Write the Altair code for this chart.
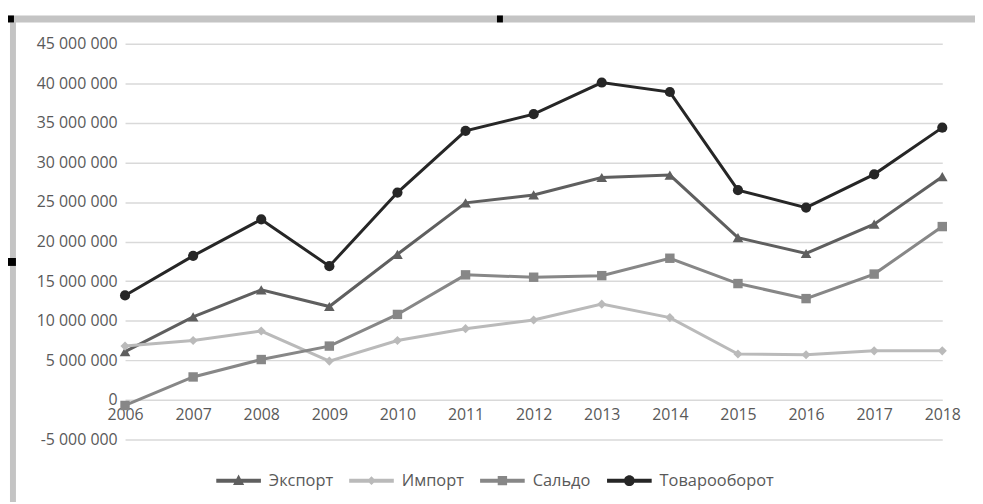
import altair as alt
import pandas as pd

# ---- data ----
years = [2006, 2007, 2008, 2009, 2010, 2011, 2012, 2013, 2014, 2015, 2016, 2017, 2018]
export_vals = [6100000, 10500000, 13900000, 11800000, 18400000, 24900000, 25900000,
               28100000, 28400000, 20500000, 18500000, 22200000, 28200000]
import_vals = [6800000, 7500000, 8700000, 4900000, 7500000, 9000000, 10100000,
               12100000, 10400000, 5800000, 5700000, 6200000, 6200000]
saldo_vals = [-700000, 2900000, 5100000, 6800000, 10800000, 15800000, 15500000,
              15700000, 17900000, 14700000, 12800000, 15900000, 21900000]
turnover_vals = [13200000, 18200000, 22800000, 16900000, 26200000, 34000000, 36100000,
                 40100000, 38900000, 26500000, 24300000, 28500000, 34400000]
y_ticks = [-5000000, 0, 5000000, 10000000, 15000000, 20000000, 25000000,
           30000000, 35000000, 40000000, 45000000]

series_names = ["Экспорт", "Импорт", "Сальдо", "Товарооборот"]
series_vals = [export_vals, import_vals, saldo_vals, turnover_vals]

# ---- styles ----
colors = ["#5f5f5f", "#bababa", "#878787", "#262626"]
shapes = ["triangle-up", "diamond", "square", "circle"]
marker_sizes = [115, 85, 90, 105]

line_part = "M-1,-0.09 L1,-0.09 L1,0.09 L-1,0.09 Z "
legend_paths = [
    line_part + "M0,-0.27 L0.25,0.2 L-0.25,0.2 Z",
    line_part + "M0,-0.2 L0.2,0 L0,0.2 L-0.2,0 Z",
    line_part + "M-0.21,-0.21 L0.21,-0.21 L0.21,0.21 L-0.21,0.21 Z",
    line_part + "M-0.24,0 A0.24,0.24 0 1,1 0.24,0 A0.24,0.24 0 1,1 -0.24,0 Z",
]

rows = []
for name, vals in zip(series_names, series_vals):
    for yr, v in zip(years, vals):
        rows.append({"year": yr, "value": v, "series": name})
df = pd.DataFrame(rows)

FONT = "Open Sans"
TXT = "#595959"
W, H = 824, 399

x_enc = alt.X(
    "year:Q",
    scale=alt.Scale(domain=[years[0], years[-1]], nice=False, zero=False),
    axis=alt.Axis(values=years, format="d", title=None, grid=False, domain=False,
                  ticks=False, offset=-40, labelPadding=7, labelFlush=False,
                  labelOverlap=False, labelFont=FONT, labelFontSize=16,
                  labelColor=TXT),
)
y_enc = alt.Y(
    "value:Q",
    scale=alt.Scale(domain=[y_ticks[0], y_ticks[-1]], nice=False, zero=False),
    axis=alt.Axis(values=y_ticks, title=None, grid=True, gridColor="#d9d9d9",
                  gridWidth=1.5, domain=False, ticks=False, labelPadding=8,
                  labelFont=FONT, labelFontSize=16, labelColor=TXT,
                  labelExpr="replace(join(split(format(datum.value, ','), ','), ' '), '\u2212', '-')"),
)

layers = []
for name, color, shape, msize in zip(series_names, colors, shapes, marker_sizes):
    base = alt.Chart(df).transform_filter(alt.datum.series == name)
    layers.append(base.mark_line(color=color, strokeWidth=3).encode(x=x_enc, y=y_enc))
    layers.append(base.mark_point(shape=shape, filled=True, color=color, opacity=1,
                                  size=msize).encode(x=x_enc, y=y_enc))

legend_def = alt.Legend(
    title=None, orient="none", legendX=92, legendY=418, direction="horizontal",
    symbolSize=2025, symbolStrokeWidth=0, symbolOpacity=1,
    labelFont=FONT, labelFontSize=16.5, labelColor=TXT, labelOffset=8,
    columnPadding=16,
)
legend_layer = alt.Chart(df).transform_filter("false").mark_point(
    filled=True, opacity=1).encode(
    x=x_enc, y=y_enc,
    color=alt.Color("series:N", scale=alt.Scale(domain=series_names, range=colors),
                    legend=legend_def),
    shape=alt.Shape("series:N", scale=alt.Scale(domain=series_names, range=legend_paths),
                    legend=legend_def),
)
layers.append(legend_layer)

# ---- frame decoration (selection frame seen in the reference) ----
deco = alt.Data(values=[{"k": 0}])
frame_top = alt.Chart(deco).mark_rule(color="#c4c4c4", strokeWidth=7).encode(
    x=alt.value(-118), x2=alt.value(857), y=alt.value(-25))
frame_left = alt.Chart(deco).mark_rule(color="#c4c4c4", strokeWidth=6).encode(
    x=alt.value(-113), y=alt.value(-28), y2=alt.value(462))
h1 = alt.Chart(deco).mark_rect(color="#000000").encode(
    x=alt.value(-118), x2=alt.value(-112), y=alt.value(-28.5), y2=alt.value(-21.5))
h2 = alt.Chart(deco).mark_rect(color="#000000").encode(
    x=alt.value(375), x2=alt.value(381), y=alt.value(-28.5), y2=alt.value(-21.5))
h3 = alt.Chart(deco).mark_rect(color="#000000").encode(
    x=alt.value(-118), x2=alt.value(-110), y=alt.value(216), y2=alt.value(224))

chart = alt.layer(*layers, frame_top, frame_left, h1, h2, h3).properties(
    width=W, height=H,
    autosize=alt.AutoSizeParams(type="none"),
    padding={"left": 118, "top": 34, "right": 33, "bottom": 62},
    background="white",
).configure_view(stroke=None)

chart.save("out.html", embed_options={"renderer": "svg", "actions": False})
